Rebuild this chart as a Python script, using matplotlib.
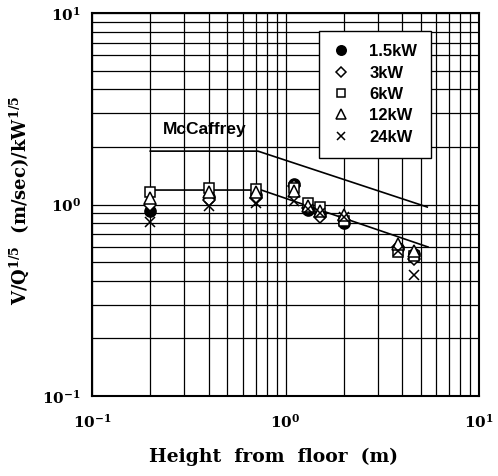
import numpy as np
import matplotlib
matplotlib.use("Agg")
import matplotlib.pyplot as plt
from matplotlib.ticker import FixedLocator, NullFormatter

plt.rcParams.update({
    "font.family":       "DejaVu Serif",
    "mathtext.fontset":  "custom",
    "mathtext.rm":       "DejaVu Serif:bold",
    "mathtext.bf":       "DejaVu Serif:bold",
    "mathtext.it":       "DejaVu Serif:bold",
    "mathtext.default":  "bf",
})

# ── Data ───────────────────────────────────────────────────────────────────
heights = [0.2, 0.4, 0.7, 1.1, 1.3, 1.5, 2.0, 3.8, 4.6]
v_1_5kw = [0.93, 1.10, 1.12, 1.28, 0.94, 0.89, 0.80, 0.59, 0.55]
v_3kw   = [1.00, 1.05, 1.08, 1.25, 0.96, 0.86, 0.83, 0.60, 0.52]
v_6kw   = [1.16, 1.22, 1.20, 1.22, 1.02, 0.97, 0.82, 0.565, 0.54]
v_12kw  = [1.08, 1.16, 1.16, 1.17, 0.98, 0.92, 0.88, 0.62, 0.57]
v_24kw  = [0.81, 0.98, 1.02, 1.04, 0.95, 0.90, 0.86, 0.57, 0.43]

series_labels = ["1.5kW", "3kW", "6kW", "12kW", "24kW"]

# McCaffrey correlation and fitted line (break points)
mccaffrey_x = [0.2, 0.72, 5.4]
mccaffrey_y = [1.90, 1.90, 0.97]
fit_x = [0.2, 0.75, 5.45]
fit_y = [1.19, 1.19, 0.60]

# ── Figure ─────────────────────────────────────────────────────────────────
fig = plt.figure(figsize=(4.98, 4.76), dpi=100)
ax = fig.add_axes([0.1847, 0.168, 0.7773, 0.8047])
ax.set_xscale("log")
ax.set_yscale("log")
ax.set_xlim(0.1, 10)
ax.set_ylim(0.1, 10)

ax.grid(True, which="both", color="black", linewidth=0.9, zorder=1)
ax.set_axisbelow(True)

ax.plot(mccaffrey_x, mccaffrey_y, color="black", linewidth=1.2, zorder=2)
ax.plot(fit_x, fit_y, color="black", linewidth=1.2, zorder=2)

styles = [
    dict(marker="o", markersize=8, markerfacecolor="black"),
    dict(marker="D", markersize=6.5, markerfacecolor="white"),
    dict(marker="s", markersize=7, markerfacecolor="white"),
    dict(marker="^", markersize=8, markerfacecolor="white"),
    dict(marker="x", markersize=7.5, markerfacecolor="none"),
]
for vals, lab, st in zip([v_1_5kw, v_3kw, v_6kw, v_12kw, v_24kw],
                         series_labels, styles):
    ax.plot(heights, vals, linestyle="none", color="black",
            markeredgecolor="black", markeredgewidth=1.1,
            label=lab, zorder=3, **st)

ax.text(0.233, 2.25, "McCaffrey", fontfamily="Liberation Sans",
        fontweight="bold", fontsize=12.5, ha="left", va="bottom")

leg = ax.legend(loc="upper left", bbox_to_anchor=(0.587, 0.953),
                borderaxespad=0, fancybox=False, framealpha=1,
                edgecolor="black", handlelength=1.0, handletextpad=1.2,
                labelspacing=0.38, borderpad=0.8, markerscale=0.85,
                prop={"family": "Liberation Sans", "weight": "bold",
                      "size": 12})
leg.get_frame().set_linewidth(1.0)
leg.set_zorder(5)

major = [0.1, 1, 10]
ax.xaxis.set_major_locator(FixedLocator(major))
ax.yaxis.set_major_locator(FixedLocator(major))
ax.set_xticklabels([r"$10^{-1}$", r"$10^{0}$", r"$10^{1}$"])
ax.set_yticklabels([r"$10^{-1}$", r"$10^{0}$", r"$10^{1}$"])
ax.xaxis.set_minor_formatter(NullFormatter())
ax.yaxis.set_minor_formatter(NullFormatter())
ax.tick_params(which="both", length=0, labelsize=11)
ax.tick_params(axis="x", pad=12)
ax.tick_params(axis="y", pad=8)

for sp in ax.spines.values():
    sp.set_linewidth(1.5)

ax.set_xlabel("Height  from  floor  (m)", fontweight="bold", fontsize=13.5)
ax.xaxis.set_label_coords(0.47, -0.135)
ax.set_ylabel(r"V/Q$^{1/5}$  (m/sec)/kW$^{1/5}$", fontweight="bold",
              fontsize=13)
ax.yaxis.set_label_coords(-0.158, 0.51)

fig.savefig("out.png", dpi=100)
